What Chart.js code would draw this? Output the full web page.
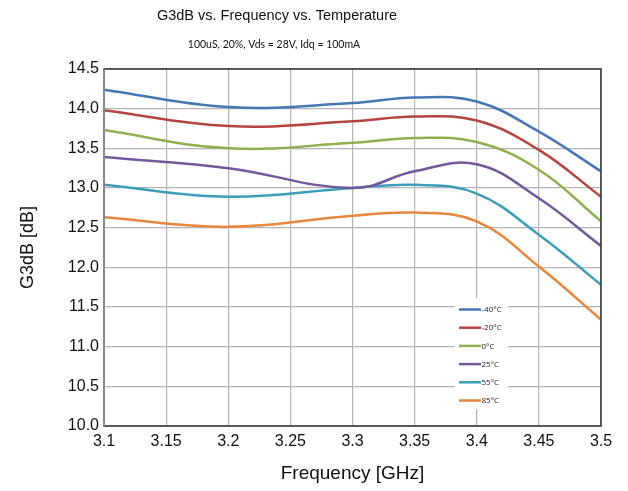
<!DOCTYPE html>
<html>
<head>
<meta charset="utf-8">
<script src="https://cdn.jsdelivr.net/npm/chart.js@4/dist/chart.umd.min.js"></script>
<style>
  html, body { margin: 0; padding: 0; background: #fff; }
  #wrap { width: 628px; height: 491px; }
</style>
</head>
<body>
<div id="wrap"><canvas id="g3dbChart" width="628" height="491"></canvas></div>
<script>
// frequency points [GHz]
const freqs = [3.1, 3.2, 3.3, 3.35, 3.4, 3.45, 3.5];

// G3dB [dB] per temperature
const gM40 = [14.24, 14.02, 14.07, 14.14, 14.09, 13.71, 13.21];
const gM20 = [13.98, 13.78, 13.84, 13.90, 13.85, 13.48, 12.89];
const g0   = [13.73, 13.50, 13.57, 13.63, 13.58, 13.23, 12.58];
const g25  = [13.39, 13.25, 13.00, 13.21, 13.30, 12.87, 12.27];
const g55  = [13.04, 12.89, 13.00, 13.04, 12.93, 12.41, 11.78];
const g85  = [12.63, 12.51, 12.65, 12.69, 12.58, 12.01, 11.34];

const seriesNames = ['-40°C', '-20°C', '0°C', '25°C', '55°C', '85°C'];
const seriesValues = [gM40, gM20, g0, g25, g55, g85];
const seriesColors = ['#4676B4', '#B5433F', '#8FB04F', '#74589C', '#3C9DBA', '#E8863A'];

const xTicks = [3.1, 3.15, 3.2, 3.25, 3.3, 3.35, 3.4, 3.45, 3.5];
const yTicks = [10.0, 10.5, 11.0, 11.5, 12.0, 12.5, 13.0, 13.5, 14.0, 14.5];

const titleText = 'G3dB vs. Frequency vs. Temperature';
const subtitleText = '100uS, 20%, Vds = 28V, Idq = 100mA';

const datasets = seriesNames.map((name, i) => ({
    label: name,
    data: freqs.map((f, j) => ({ x: f, y: seriesValues[i][j] })),
    borderColor: seriesColors[i],
    backgroundColor: seriesColors[i],
    borderWidth: 2.5,
    pointRadius: 0,
    tension: 0.4,
    fill: false
}));

// title lines, centred a bit left of the canvas middle like the original
const header = {
    id: 'header',
    afterDraw(chart) {
        const ctx = chart.ctx;
        ctx.save();
        ctx.fillStyle = '#111';
        ctx.textAlign = 'center';
        ctx.textBaseline = 'middle';
        ctx.font = '14.5px "Liberation Sans", Arial';
        ctx.fillText(titleText, 277, 16);
        ctx.font = '10.5px Lato';
        ctx.fillText(subtitleText, 274, 45);
        ctx.restore();
    }
};

// frame round the plot area
const frameBox = {
    id: 'frameBox',
    afterDatasetsDraw(chart) {
        const a = chart.chartArea, ctx = chart.ctx;
        ctx.save();
        ctx.strokeStyle = '#333';
        ctx.lineWidth = 1.5;
        ctx.strokeRect(a.left, a.top, a.right - a.left, a.bottom - a.top);
        // left axis is lighter
        ctx.strokeStyle = '#8a8a8a';
        ctx.lineWidth = 2;
        ctx.beginPath();
        ctx.moveTo(a.left, a.top);
        ctx.lineTo(a.left, a.bottom);
        ctx.stroke();
        ctx.restore();
    }
};

// small legend inside the plot, lower right
const innerLegend = {
    id: 'innerLegend',
    afterDraw(chart) {
        const ctx = chart.ctx;
        const x0 = 455, y0 = 298;
        ctx.save();
        ctx.fillStyle = '#fff';
        ctx.fillRect(x0, y0, 53, 111);
        ctx.font = '8px "Open Sans"';
        ctx.textBaseline = 'middle';
        ctx.textAlign = 'left';
        seriesNames.forEach((name, i) => {
            const y = 309.5 + i * 18.2;
            ctx.strokeStyle = seriesColors[i];
            ctx.lineWidth = 2.5;
            ctx.beginPath();
            ctx.moveTo(459, y);
            ctx.lineTo(481, y);
            ctx.stroke();
            ctx.fillStyle = '#222';
            ctx.fillText(name, 481.5, y + 0.5);
        });
        ctx.restore();
    }
};

const config = {
    type: 'line',
    data: { datasets: datasets },
    options: {
        responsive: false,
        animation: false,
        layout: { padding: { left: 0, right: 27, top: 69, bottom: 0 } },
        plugins: {
            legend: { display: false },
            tooltip: { enabled: false }
        },
        scales: {
            x: {
                type: 'linear',
                min: 3.1,
                max: 3.5,
                afterFit(scale) { scale.height = 65; },
                afterBuildTicks(scale) { scale.ticks = xTicks.map(v => ({ value: v })); },
                ticks: {
                    color: '#111',
                    font: { family: '"Liberation Sans", Arial', size: 16 },
                    padding: 6,
                    maxRotation: 0,
                    callback: v => String(v)
                },
                grid: { color: '#b4b4b4', lineWidth: 1.2, drawTicks: false },
                border: { display: false },
                title: {
                    display: true,
                    text: 'Frequency [GHz]',
                    color: '#111',
                    font: { family: '"Liberation Sans", Arial', size: 19 },
                    padding: { top: 0, bottom: 6 }
                }
            },
            y: {
                min: 10,
                max: 14.5,
                afterFit(scale) { scale.width = 104; },
                afterBuildTicks(scale) { scale.ticks = yTicks.map(v => ({ value: v })); },
                ticks: {
                    color: '#111',
                    font: { family: '"Liberation Sans", Arial', size: 16 },
                    padding: 5,
                    callback: v => v.toFixed(1)
                },
                grid: { color: '#b4b4b4', lineWidth: 1.2, drawTicks: false },
                border: { display: false },
                title: {
                    display: true,
                    text: 'G3dB [dB]',
                    color: '#111',
                    font: { family: '"Liberation Sans", Arial', size: 18 },
                    padding: { top: 17, bottom: 0 }
                }
            }
        }
    },
    plugins: [header, frameBox, innerLegend]
};

const g3dbChart = new Chart(document.getElementById('g3dbChart'), config);
</script>
</body>
</html>
